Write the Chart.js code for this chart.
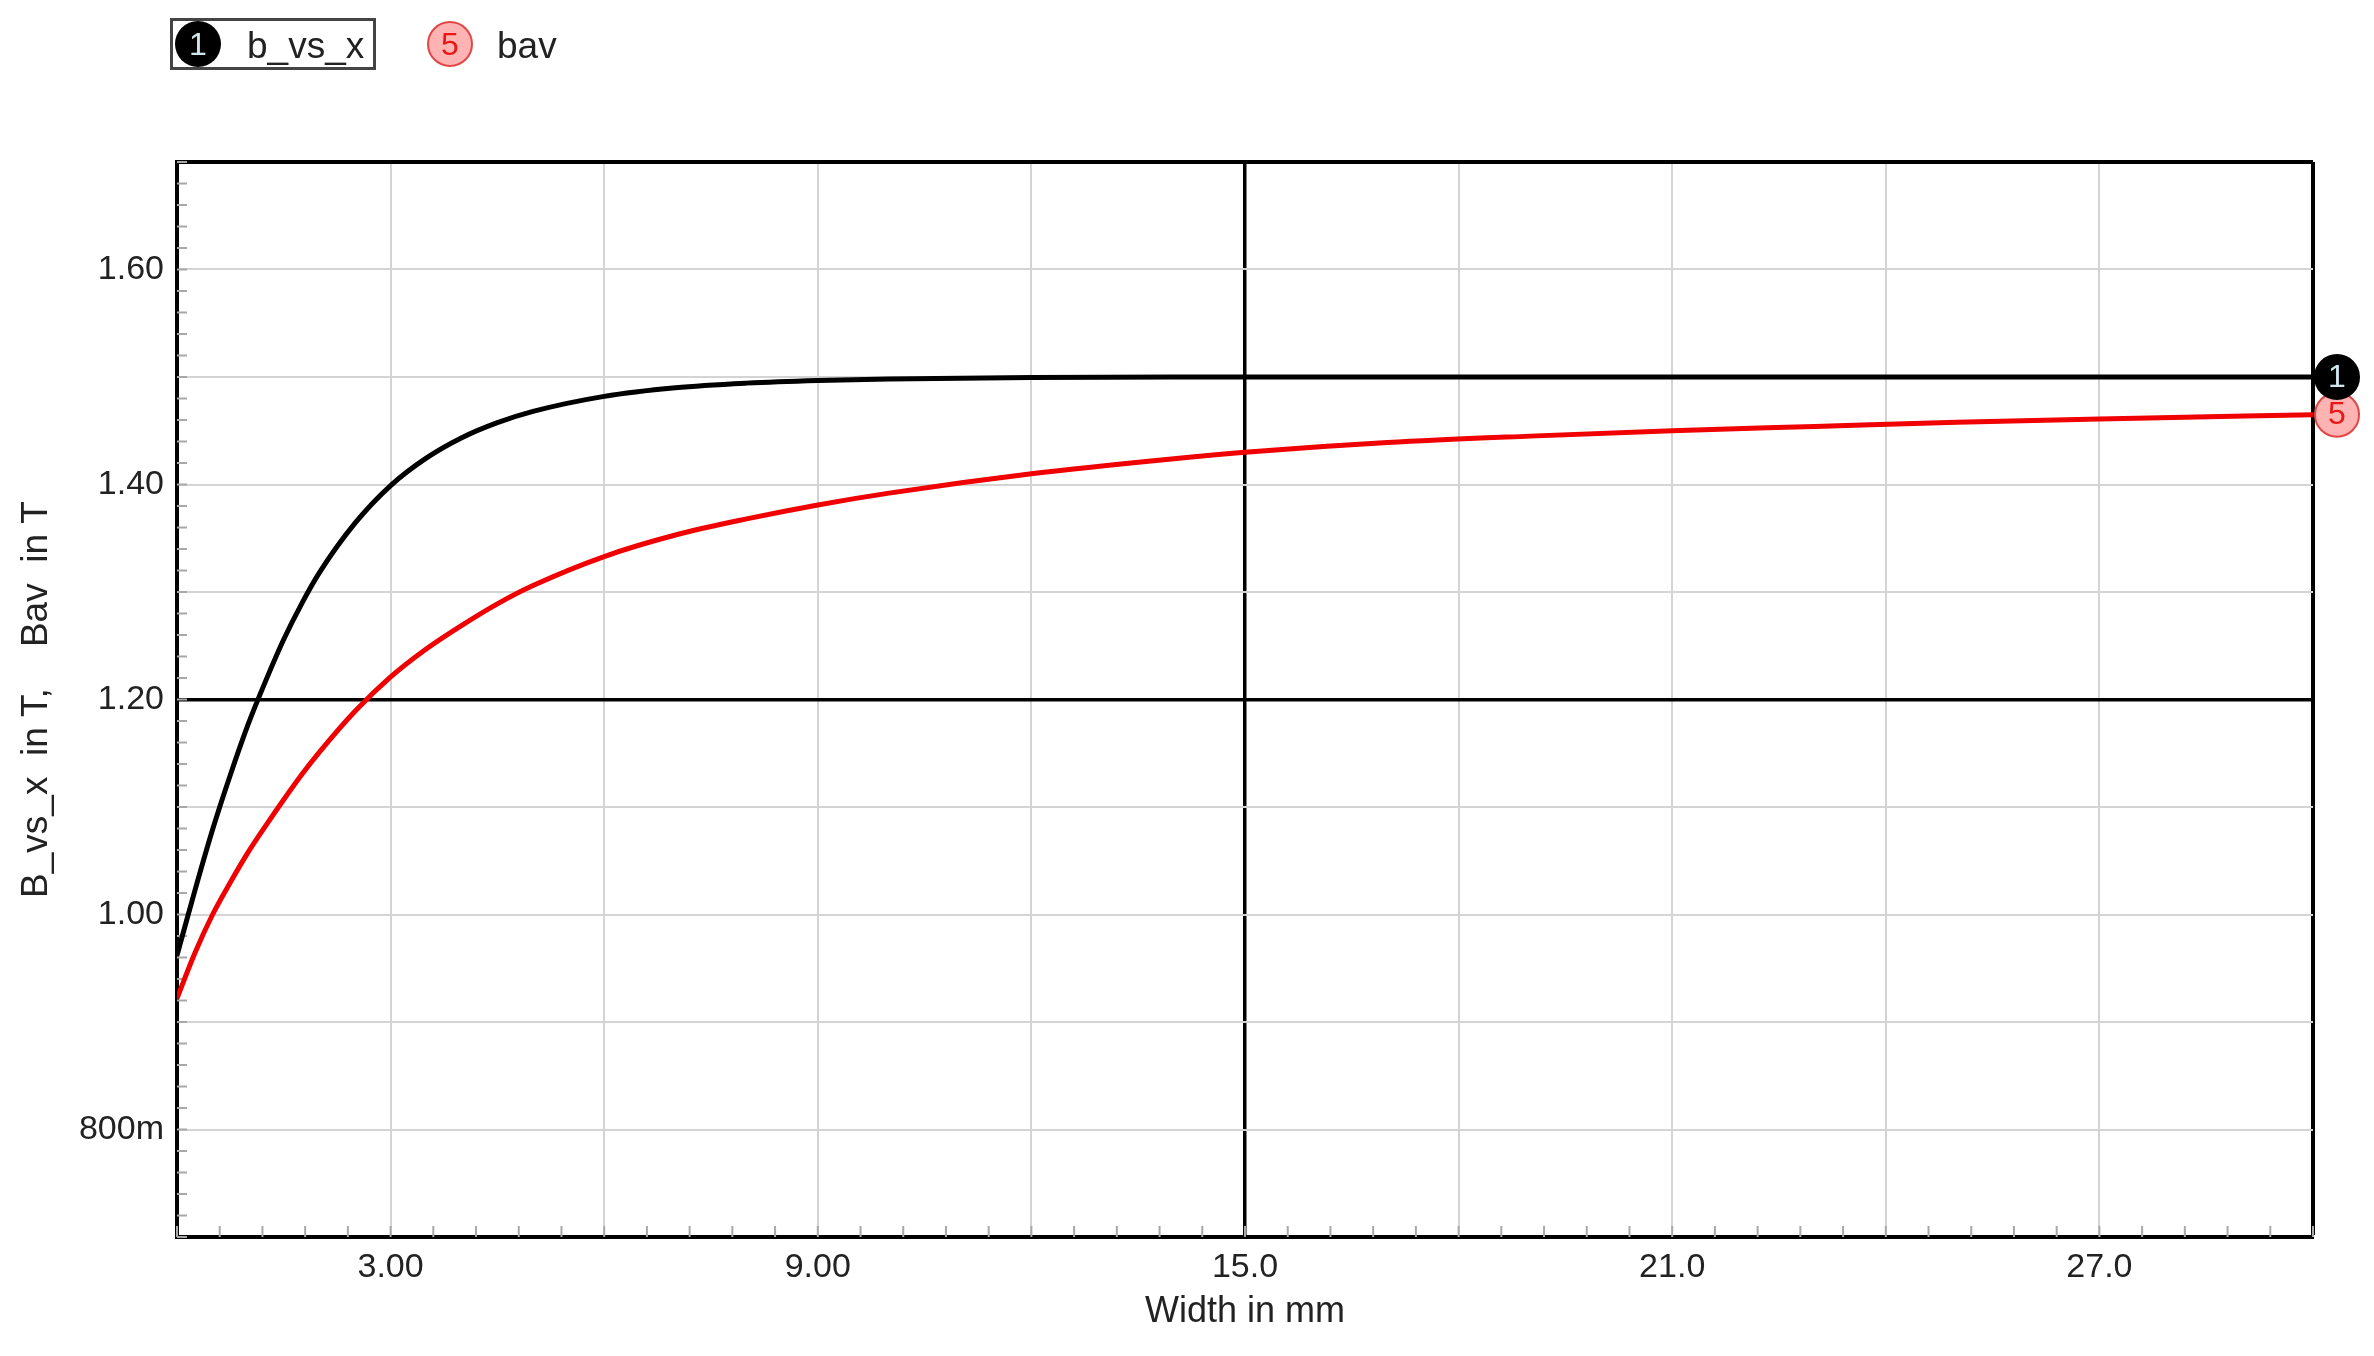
<!DOCTYPE html>
<html>
<head>
<meta charset="utf-8">
<script src="https://cdn.jsdelivr.net/npm/chart.js@4.4.0/dist/chart.umd.min.js"></script>
<style>
  body { margin: 0; background: #fff; }
  #wrap { position: relative; width: 2374px; height: 1356px; }
  #legend { position: absolute; left: 0; top: 0; font-family: "Liberation Sans", Arial, sans-serif; font-size: 37px; color: #222; }
  .item { position: absolute; box-sizing: border-box; height: 52px; }
  .badge { position: absolute; width: 46px; height: 46px; border-radius: 50%; box-sizing: border-box;
           display: flex; align-items: center; justify-content: center; font-size: 32px; }
  .txt { position: absolute; top: 5px; line-height: 40px; }
</style>
</head>
<body>
<div id="wrap">
  <canvas id="chart" width="2374" height="1356"></canvas>
  <div id="legend">
    <div class="item" style="left:170px; top:18px; width:206px; border:3px solid #444;">
      <div class="badge" style="left:2px; top:0px; background:#000; color:#cfe6ea;">1</div>
      <div class="txt" style="left:74px;">b_vs_x</div>
    </div>
    <div class="item" style="left:427px; top:18px; width:120px;">
      <div class="badge" style="left:0px; top:3px; background:#ffb3b3; border:2px solid #e04848; color:#e81818;">5</div>
      <div class="txt" style="left:70px; top:8px;">bav</div>
    </div>
  </div>
</div>
<script>
// widths in mm
const widths = [0, 0.25, 0.5, 0.75, 1, 1.25, 1.5, 1.75, 2, 2.5, 3, 3.5, 4, 4.5, 5, 6, 7, 8, 9, 10, 12, 14, 15, 17, 19, 21, 23, 25, 27, 30];
const bVsX = [0.962, 1.022, 1.079, 1.13, 1.177, 1.218, 1.256, 1.289, 1.318, 1.364, 1.399, 1.4245, 1.4435, 1.4575, 1.468, 1.482, 1.49, 1.4943, 1.4968, 1.4982, 1.4995, 1.5, 1.5, 1.5, 1.5, 1.5, 1.5, 1.5, 1.5, 1.5];
const bav = [0.922, 0.964, 1.0, 1.03, 1.058, 1.083, 1.107, 1.13, 1.151, 1.189, 1.221, 1.247, 1.269, 1.289, 1.306, 1.333, 1.353, 1.368, 1.381, 1.392, 1.41, 1.424, 1.43, 1.439, 1.445, 1.45, 1.454, 1.458, 1.461, 1.465];

const seriesNames = ["b_vs_x", "bav"];
const seriesIds = ["1", "5"];

const xTickValues = [3, 9, 15, 21, 27];
const xTickLabels = ["3.00", "9.00", "15.0", "21.0", "27.0"];
const yTickValues = [0.8, 1.0, 1.2, 1.4, 1.6];
const yTickLabels = ["800m", "1.00", "1.20", "1.40", "1.60"];

const FONT = '"Liberation Sans", Arial, sans-serif';
const near = (a, b) => Math.abs(a - b) < 1e-6;

const toPoints = ys => widths.map((w, i) => ({ x: w, y: ys[i] }));

const badgeStyles = [
  { fill: "#000", stroke: "#000", text: "#cfe6ea" },
  { fill: "#ffb3b3", stroke: "#e04848", text: "#e81818" }
];

function drawBadge(ctx, cx, cy, label, st) {
  ctx.beginPath();
  ctx.arc(cx, cy, 22, 0, Math.PI * 2);
  ctx.fillStyle = st.fill;
  ctx.fill();
  ctx.lineWidth = 2;
  ctx.strokeStyle = st.stroke;
  ctx.stroke();
  ctx.fillStyle = st.text;
  ctx.font = "32px " + FONT;
  ctx.textAlign = "center";
  ctx.textBaseline = "middle";
  ctx.fillText(label, cx, cy + 1);
}

const extras = {
  id: "extras",
  beforeDatasetsDraw(chart) {
    const { ctx, chartArea: a, scales: { x, y } } = chart;
    ctx.save();
    ctx.strokeStyle = "#a8a8a8";
    ctx.lineWidth = 2;
    ctx.beginPath();
    for (let v = 0; v <= 30.001; v += 0.6) {
      const px = x.getPixelForValue(v);
      ctx.moveTo(px, a.bottom);
      ctx.lineTo(px, a.bottom - 11);
    }
    for (let v = 0.7; v <= 1.7001; v += 0.02) {
      const py = y.getPixelForValue(v);
      ctx.moveTo(a.left, py);
      ctx.lineTo(a.left + 10, py);
    }
    ctx.stroke();
    ctx.restore();
  },
  afterDraw(chart) {
    const ctx = chart.ctx;
    ctx.save();
    for (let i = chart.data.datasets.length - 1; i >= 0; i--) {
      const meta = chart.getDatasetMeta(i);
      const pt = meta.data[meta.data.length - 1];
      drawBadge(ctx, pt.x + 24, pt.y, seriesIds[i], badgeStyles[i]);
    }
    ctx.restore();
  }
};

new Chart(document.getElementById("chart").getContext("2d"), {
  type: "line",
  data: {
    datasets: [
      { label: seriesNames[0], data: toPoints(bVsX), borderColor: "#000", borderWidth: 5,
        pointRadius: 0, cubicInterpolationMode: "monotone" },
      { label: seriesNames[1], data: toPoints(bav), borderColor: "#f00000", borderWidth: 5,
        pointRadius: 0, cubicInterpolationMode: "monotone" }
    ]
  },
  options: {
    responsive: false,
    animation: false,
    layout: { padding: { top: 162, right: 61, left: 0, bottom: 0 } },
    plugins: { legend: { display: false }, tooltip: { enabled: false } },
    scales: {
      x: {
        type: "linear",
        min: 0,
        max: 30,
        afterFit: s => { s.height = 119; },
        ticks: {
          stepSize: 3,
          autoSkip: false,
          maxRotation: 0,
          padding: 10,
          color: "#222",
          font: { family: FONT, size: 34 },
          callback: v => {
            const i = xTickValues.findIndex(t => near(t, v));
            return i >= 0 ? xTickLabels[i] : "";
          }
        },
        grid: {
          drawTicks: false,
          color: c => (near(c.tick.value, 15) || near(c.tick.value, 30) || near(c.tick.value, 0)) ? "#000" : "#d4d4d4",
          lineWidth: c => near(c.tick.value, 15) ? 3.5 : (near(c.tick.value, 30) ? 4 : 2)
        },
        border: { color: "#000", width: 4 },
        title: { display: true, text: "Width in mm", color: "#222", font: { family: FONT, size: 36 },
                 padding: { top: 0, bottom: 22 } }
      },
      y: {
        min: 0.7,
        max: 1.7,
        afterFit: s => { s.width = 177; },
        ticks: {
          stepSize: 0.1,
          autoSkip: false,
          padding: 13,
          color: "#222",
          font: { family: FONT, size: 34 },
          callback: v => {
            const i = yTickValues.findIndex(t => near(t, v));
            return i >= 0 ? yTickLabels[i] : "";
          }
        },
        grid: {
          drawTicks: false,
          color: c => (near(c.tick.value, 1.2) || near(c.tick.value, 1.7) || near(c.tick.value, 0.7)) ? "#000" : "#d4d4d4",
          lineWidth: c => near(c.tick.value, 1.2) ? 3.5 : (near(c.tick.value, 1.7) ? 4 : 2)
        },
        border: { color: "#000", width: 4 },
        title: { display: true, text: "B_vs_x  in T,    Bav  in T", color: "#222", font: { family: FONT, size: 37 },
                 padding: { top: 15, bottom: 0 } }
      }
    }
  },
  plugins: [extras]
});
</script>
</body>
</html>
